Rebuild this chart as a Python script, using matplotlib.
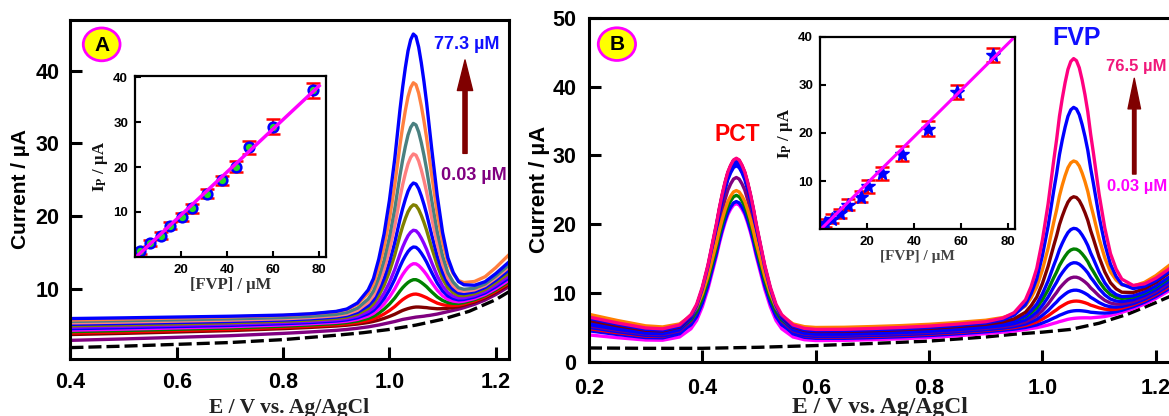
import matplotlib
matplotlib.use('Agg')
import matplotlib.pyplot as plt
from matplotlib.patches import Ellipse
import numpy as np

plt.rcParams['font.family'] = ['Liberation Sans', 'DejaVu Sans']
plt.rcParams['font.weight'] = 'bold'
plt.rcParams['axes.labelweight'] = 'bold'
plt.rcParams['mathtext.fontset'] = 'stix'
plt.rcParams['lines.scale_dashes'] = False

# ---------------- Panel A data (FVP alone) ----------------
E_a = [0.40, 0.50, 0.60, 0.70, 0.80, 0.85, 0.90, 0.92, 0.94, 0.96, 0.97, 0.98, 0.99, 1.00,
       1.01, 1.015, 1.02, 1.025, 1.03, 1.035, 1.04, 1.045, 1.05, 1.055, 1.06, 1.065, 1.07,
       1.075, 1.08, 1.09, 1.10, 1.11, 1.12, 1.13, 1.14, 1.16, 1.18, 1.20, 1.225]
# normalised FVP peak profile
peak_a = [0, 0, 0, 0, 0, 0.002, 0.008, 0.015, 0.035, 0.08, 0.12, 0.19, 0.28, 0.40,
          0.55, 0.64, 0.73, 0.81, 0.88, 0.94, 0.98, 1.0, 0.99, 0.95, 0.89, 0.82, 0.74,
          0.65, 0.56, 0.39, 0.25, 0.15, 0.09, 0.05, 0.03, 0.01, 0, 0, 0]
# background shape: rise towards the peak region, then rise after the peak
rise1_a = [0.0, 0.06, 0.13, 0.2, 0.3, 0.36, 0.43, 0.47, 0.52, 0.58, 0.62, 0.66, 0.71, 0.76,
           0.81, 0.84, 0.87, 0.9, 0.92, 0.94, 0.96, 0.98, 1.0] + [1.0] * 16
rise2_a = [0.0] * 23 + [0.01, 0.02, 0.03, 0.045, 0.055, 0.07, 0.1, 0.14, 0.18, 0.22,
                        0.26, 0.31, 0.42, 0.56, 0.74, 1.0]

colors_a = ['#0000FF', '#FF8040', '#4A8080', '#FF8080', '#0000FF', '#808000', '#8800FF',
            '#0000FF', '#FF00FF', '#008000', '#FF0000', '#800000', '#800080']
start_a = [5.9, 5.7, 5.5, 5.3, 5.1, 4.9, 4.7, 4.5, 4.3, 4.1, 3.9, 3.7, 2.9]
under_a = [7.5, 7.8, 7.3, 7.2, 7.1, 7.0, 6.9, 6.8, 6.7, 6.6, 6.5, 6.4, 6.1]
height_a = [37.6, 30.6, 25.5, 21.4, 17.5, 14.6, 11.2, 9.0, 6.8, 4.7, 2.8, 1.1, 0.0]
end_a = [13.7, 14.7, 13.3, 13.0, 12.6, 12.2, 11.8, 11.5, 11.2, 11.0, 10.8, 10.6, 10.3]

E_blank_a = [0.40, 0.50, 0.60, 0.70, 0.80, 0.85, 0.90, 0.95, 1.00, 1.05, 1.10, 1.15, 1.20, 1.225]
blank_a = [1.9, 2.1, 2.35, 2.6, 3.0, 3.3, 3.6, 3.95, 4.4, 5.0, 5.8, 6.9, 8.5, 9.6]

conc_a = [0.03, 2.2, 6.5, 11.3, 15.2, 20.6, 24.9, 31.4, 38.0, 43.8, 49.6, 59.9, 77.3]
ip_a = [0.5, 1.3, 3.0, 4.7, 6.9, 8.8, 10.8, 14.0, 17.0, 20.1, 24.4, 29.0, 37.1]
err_a = [0.6, 0.6, 0.7, 0.8, 0.8, 0.9, 1.0, 1.0, 1.1, 1.2, 1.4, 1.6, 1.6]
fit_a = (0.48, -0.3)
fit_range_a = [0.7, 80.0]

# ---------------- Panel B data (PCT + FVP) ----------------
E_b = [0.20, 0.25, 0.30, 0.33, 0.36, 0.38, 0.39, 0.40, 0.41, 0.42, 0.425, 0.43, 0.435, 0.44,
       0.445, 0.45, 0.455, 0.46, 0.465, 0.47, 0.475, 0.48, 0.485, 0.49, 0.495, 0.50, 0.51,
       0.52, 0.53, 0.54, 0.56, 0.58, 0.60, 0.65, 0.70, 0.75, 0.80, 0.85, 0.90, 0.93, 0.95,
       0.97, 0.98, 0.99, 1.00, 1.01, 1.02, 1.025, 1.03, 1.035, 1.04, 1.045, 1.05, 1.055,
       1.06, 1.065, 1.07, 1.075, 1.08, 1.085, 1.09, 1.10, 1.11, 1.12, 1.13, 1.14, 1.16,
       1.18, 1.20, 1.225]
pct_b = [0, 0, 0.001, 0.005, 0.03, 0.09, 0.15, 0.25, 0.38, 0.54, 0.62, 0.71, 0.79, 0.86,
         0.92, 0.96, 0.99, 1.0, 0.99, 0.96, 0.92, 0.86, 0.79, 0.71, 0.62, 0.54, 0.38,
         0.25, 0.15, 0.09, 0.03, 0.01, 0.004] + [0.0] * 37
fvp_b = [0.0] * 39 + [0.008, 0.025, 0.07, 0.12, 0.19, 0.30, 0.44, 0.61, 0.69, 0.78, 0.85,
                      0.91, 0.96, 0.99, 1.0, 0.99, 0.96, 0.91, 0.85, 0.78, 0.69, 0.61,
                      0.44, 0.30, 0.19, 0.12, 0.07, 0.025, 0.008, 0.002, 0.0]
# background weights: start level, flat level, level under FVP, end level
w_start_b = [1.0, 0.55, 0.15, 0.03] + [0.0] * 66
w_flat_b = ([0.0, 0.45, 0.85, 0.97] + [1.0] * 29 +
            [0.96, 0.92, 0.87, 0.8, 0.7, 0.58, 0.5, 0.44, 0.37, 0.33, 0.3, 0.26, 0.22,
             0.17, 0.15, 0.12, 0.1, 0.07, 0.04, 0.02, 0.0] + [0.0] * 16)
w_end_b = [0.0] * 54 + [0.01, 0.02, 0.03, 0.04, 0.05, 0.06, 0.08, 0.12, 0.16, 0.21, 0.26,
                        0.32, 0.44, 0.58, 0.75, 1.0]

colors_b = ['#FF0080', '#0000FF', '#FF8000', '#800000', '#0000FF', '#008000', '#0000FF',
            '#800080', '#0000FF', '#FF0000', '#0000FF', '#FF00FF']
start_b = [6.5, 6.3, 6.9, 6.0, 5.8, 5.9, 5.4, 5.2, 5.0, 4.8, 4.5, 3.9]
flat_b = [4.6, 4.4, 4.9, 4.3, 4.1, 4.3, 3.9, 3.8, 3.6, 3.5, 3.3, 3.0]
under_b = [7.5, 7.3, 7.6, 7.0, 6.8, 6.8, 6.5, 6.3, 6.1, 6.0, 5.8, 5.6]
end_b = [13.6, 13.2, 14.1, 13.0, 12.4, 12.2, 11.8, 11.5, 11.2, 11.0, 10.7, 10.4]
pct_height_b = [25.0, 24.9, 20.0, 25.2, 24.7, 19.9, 25.1, 23.0, 19.7, 26.0, 25.2, 20.0]
fvp_height_b = [36.6, 29.7, 21.6, 17.0, 12.6, 9.6, 7.9, 6.0, 4.3, 2.8, 1.6, 0.7]

E_blank_b = [0.20, 0.30, 0.40, 0.50, 0.60, 0.70, 0.80, 0.90, 0.95, 1.00, 1.05, 1.10, 1.15,
             1.20, 1.225]
blank_b = [2.0, 1.95, 1.95, 2.1, 2.35, 2.65, 3.0, 3.6, 4.0, 4.3, 4.7, 5.6, 6.9, 8.6, 9.5]

conc_b = [0.03, 2.1, 5.2, 8.5, 12.1, 17.4, 20.6, 26.5, 35.0, 45.8, 58.4, 73.8]
ip_b = [0.4, 1.3, 2.2, 3.3, 5.1, 6.8, 8.9, 11.6, 15.7, 20.9, 28.5, 36.2]
err_b = [0.8, 0.8, 0.9, 1.0, 1.1, 1.1, 1.3, 1.4, 1.5, 1.5, 1.5, 1.5]
fit_b = (0.484, -0.15)
fit_range_b = [0.3, 83.0]

serif = ['Liberation Serif', 'DejaVu Serif']


def style_main(ax, size):
    for s in ax.spines.values():
        s.set_linewidth(2.2)
    ax.tick_params(direction='in', length=8.5, width=2.2, labelsize=size)
    for lab in ax.get_xticklabels() + ax.get_yticklabels():
        lab.set_fontweight('bold')


def style_inset(ax):
    for s in ax.spines.values():
        s.set_linewidth(1.6)
    ax.tick_params(direction='in', length=4.5, width=1.5, labelsize=9.5, pad=5)
    ax.set_xlim(0, 83)
    ax.set_ylim(0, 40.3)
    ax.set_xticks([20, 40, 60, 80])
    ax.set_yticks([10, 20, 30, 40])
    for lab in ax.get_xticklabels() + ax.get_yticklabels():
        lab.set_fontweight('bold')
    ax.set_xlabel('[FVP] / µM', family=serif, fontsize=12, weight='bold',
                  color='#333333', labelpad=1)
    ax.set_ylabel(r'$\mathbf{I_P}$ / µA', family=serif, fontsize=12, weight='bold',
                  color='#111111', labelpad=2)


fig = plt.figure(figsize=(11.69, 4.16), dpi=100)

# ================= Panel A =================
axa = fig.add_axes([0.0602, 0.1382, 0.3748, 0.8137])
Ea = np.array(E_a)
pa, r1, r2 = np.array(peak_a), np.array(rise1_a), np.array(rise2_a)
axa.plot(E_blank_a, blank_a, color='black', lw=2.4, ls=(0, (9.4, 3.6)))
for i in range(len(colors_a) - 1, -1, -1):
    bg = start_a[i] * (1 - r1) + under_a[i] * (r1 - r2) + end_a[i] * r2
    axa.plot(Ea, bg + height_a[i] * pa, color=colors_a[i], lw=2.4)
axa.set_xlim(0.4, 1.224)
axa.set_ylim(0.4, 47)
axa.set_xticks([0.4, 0.6, 0.8, 1.0, 1.2])
axa.set_yticks([10, 20, 30, 40])
axa.xaxis.set_major_formatter(matplotlib.ticker.FormatStrFormatter('%.1f'))
style_main(axa, 15.5)
axa.tick_params(axis='x', pad=10)
axa.tick_params(axis='y', pad=8)
axa.set_xlabel('E / V vs. Ag/AgCl', family=serif, fontsize=15.5, weight='bold',
               color='#222222', labelpad=3)
axa.set_ylabel('Current / µA', fontsize=15)
axa.yaxis.set_label_coords(-0.093, 0.5)

axa.add_patch(Ellipse((0.0714, 0.928), 0.084, 0.097, transform=axa.transAxes,
                      fc='yellow', ec='#FF00FF', lw=2.0, zorder=5))
axa.text(0.0714, 0.926, 'A', transform=axa.transAxes, ha='center', va='center',
         fontsize=15, zorder=6)
axa.text(0.905, 0.928, '77.3 µM', transform=axa.transAxes, ha='center', va='center',
         fontsize=13, color='#1010FF')
axa.text(0.922, 0.540, '0.03 µM', transform=axa.transAxes, ha='center', va='center',
         fontsize=13, color='#800080')
axa.annotate('', xy=(0.9007, 0.882), xytext=(0.9007, 0.606), xycoords='axes fraction',
             arrowprops=dict(width=3, headwidth=11, headlength=22, color='#800000'))

insa = fig.add_axes([0.1155, 0.3829, 0.1634, 0.4344])
insa.errorbar(conc_a, ip_a, yerr=err_a, fmt='none', ecolor='red', elinewidth=1.5,
              capsize=4.7, capthick=1.8)
insa.plot(conc_a, ip_a, 'o', mfc='#22DD22', mec='#0000FF', ms=7, mew=1.8)
fxa = np.array(fit_range_a)
insa.plot(fxa, fit_a[0] * fxa + fit_a[1], color='#FF00FF', lw=2.5)
style_inset(insa)

# ================= Panel B =================
axb = fig.add_axes([0.5038, 0.1305, 0.4985, 0.8262])
Eb = np.array(E_b)
pc, fv = np.array(pct_b), np.array(fvp_b)
w0, w1, we = np.array(w_start_b), np.array(w_flat_b), np.array(w_end_b)
wm = 1 - w0 - w1 - we
axb.plot(E_blank_b, blank_b, color='black', lw=2.4, ls=(0, (9.4, 3.6)))
for i in range(len(colors_b) - 1, -1, -1):
    bg = start_b[i] * w0 + flat_b[i] * w1 + under_b[i] * wm + end_b[i] * we
    axb.plot(Eb, bg + pct_height_b[i] * pc + fvp_height_b[i] * fv, color=colors_b[i], lw=2.4)
axb.set_xlim(0.2, 1.228)
axb.set_ylim(0, 50)
axb.set_xticks([0.2, 0.4, 0.6, 0.8, 1.0, 1.2])
axb.set_yticks([0, 10, 20, 30, 40, 50])
axb.xaxis.set_major_formatter(matplotlib.ticker.FormatStrFormatter('%.1f'))
style_main(axb, 15.5)
axb.tick_params(axis='x', pad=11.5)
axb.tick_params(axis='y', pad=9)
axb.set_xlabel('E / V vs. Ag/AgCl', family=serif, fontsize=17, weight='bold',
               color='#222222', labelpad=-1.5)
axb.set_ylabel('Current / µA', fontsize=16)
axb.yaxis.set_label_coords(-0.066, 0.5)

axb.add_patch(Ellipse((0.048, 0.924), 0.064, 0.095, transform=axb.transAxes,
                      fc='yellow', ec='#FF00FF', lw=2.0, zorder=5))
axb.text(0.048, 0.922, 'B', transform=axb.transAxes, ha='center', va='center',
         fontsize=15, zorder=6)
axb.text(0.2547, 0.66, 'PCT', transform=axb.transAxes, ha='center', va='center',
         fontsize=16.5, color='#FF0000')
axb.text(0.8365, 0.942, 'FVP', transform=axb.transAxes, ha='center', va='center',
         fontsize=18, color='#1010FF')
axb.text(0.939, 0.858, '76.5 µM', transform=axb.transAxes, ha='center', va='center',
         fontsize=12, color='#F0187A')
axb.text(0.9415, 0.509, '0.03 µM', transform=axb.transAxes, ha='center', va='center',
         fontsize=12, color='#FF00FF')
axb.annotate('', xy=(0.9358, 0.8246), xytext=(0.9358, 0.546), xycoords='axes fraction',
             arrowprops=dict(width=2.5, headwidth=9, headlength=22, color='#800000'))

insb = fig.add_axes([0.7015, 0.4488, 0.1668, 0.463])
insb.errorbar(conc_b, ip_b, yerr=err_b, fmt='none', ecolor='red', elinewidth=1.5,
              capsize=4.7, capthick=1.8)
insb.plot(conc_b, ip_b, '*', color='#0000FF', ms=10)
fxb = np.array(fit_range_b)
insb.plot(fxb, fit_b[0] * fxb + fit_b[1], color='#FF00FF', lw=2.2)
style_inset(insb)
insb.set_ylim(0, 40)
insb.set_xlabel('[FVP] / µM', family=serif, fontsize=11, weight='bold',
                color='#444444', labelpad=1)

fig.savefig('out.png', dpi=100)
